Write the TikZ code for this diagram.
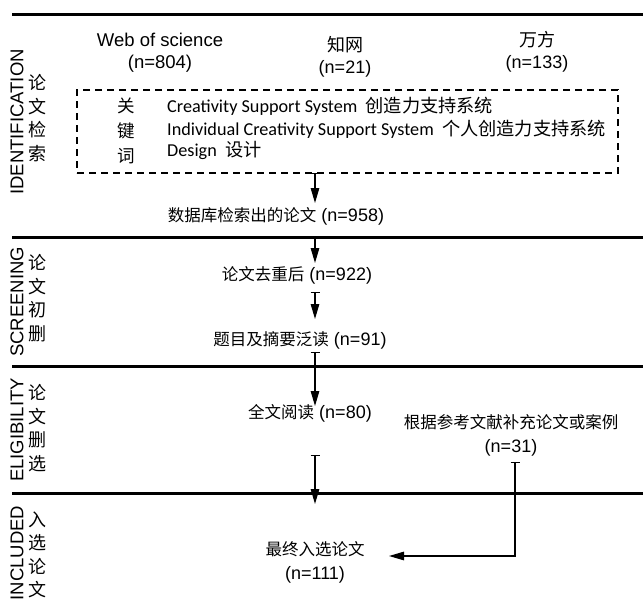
\documentclass[tikz,border=0pt]{standalone}
\usepackage{fontspec}
\setmainfont{Liberation Sans}
\newfontfamily\cjk{Noto Sans CJK SC}
\newfontfamily\kw{Carlito}
\usetikzlibrary{arrows.meta}
\begin{document}
\begin{tikzpicture}[x=1pt,y=-1pt,
  sep/.style={line width=3pt},
  txt/.style={font=\fontsize{18}{22}\selectfont, inner sep=0pt},
  vlab/.style={font=\fontsize{18.5}{22}\selectfont, inner sep=0pt, rotate=90},
  vcjk/.style={font=\cjk\fontsize{18}{23.5}\selectfont, inner sep=0pt, align=center},
  kwtxt/.style={font=\kw\fontsize{18.2}{20}\selectfont, inner sep=0pt, anchor=west},
  flow/.style={line width=1.3pt, -{Triangle[length=15pt,width=8.5pt]}},
  barflow/.style={line width=1.3pt, {Bar[width=9pt,line width=1.3pt]}-{Triangle[length=15pt,width=8.5pt]}},
  dbox/.style={draw, line width=1.2pt, dash pattern=on 7pt off 5pt, inner sep=0pt}
]
\useasboundingbox (0,0) rectangle (643,608);

% separators
\draw[sep] (12,14) -- (643,14);
\draw[sep] (12,237) -- (643,237);
\draw[sep] (12,366) -- (643,366);
\draw[sep] (12,493) -- (643,493);

% stage labels
\node[vlab] (lid) at (17,122) {IDENTIFICATION};
\node[vcjk] (cid) at (37,118) {论\\文\\检\\索};
\node[vlab] (lsc) at (17,302) {SCREENING};
\node[vcjk] (csc) at (37,298) {论\\文\\初\\删};
\node[vlab] (lel) at (17,430) {ELIGIBILITY};
\node[vcjk] (cel) at (37,428) {论\\文\\删\\选};
\node[vlab] (lin) at (17,553) {INCLUDED};
\node[vcjk] (cin) at (37,555) {入\\选\\论\\文};

% sources
\node[txt, align=center, font=\fontsize{18.5}{22}\selectfont] (wos) at (160,53) {Web of science\\(n=804)};
\node[txt, align=center] (cnki) at (345,57) {{\cjk 知网}\\(n=21)};
\node[txt, align=center] (wf) at (537,52) {{\cjk 万方}\\(n=133)};

% keyword box
\node[dbox, minimum width=541pt, minimum height=83pt] (box) at (347.5,131.5) {};
\node[vcjk, font=\cjk\fontsize{17.5}{25}\selectfont] (kwl) at (126,131) {关\\键\\词};
\node[kwtxt] (k1) at (167,106) {Creativity Support System\ \ {\cjk 创造力支持系统}};
\node[kwtxt] (k2) at (167,129) {Individual Creativity Support System\ \ {\cjk 个人创造力支持系统}};
\node[kwtxt] (k3) at (167,150) {Design\ \ {\cjk 设计}};

% flow texts
\node[txt] (n958) at (276,216) {{\cjk\fontsize{16.5}{20}\selectfont 数据库检索出的论文} (n=958)};
\node[txt] (n922) at (297,275) {{\cjk\fontsize{16.5}{20}\selectfont 论文去重后} (n=922)};
\node[txt] (n91) at (300,340) {{\cjk\fontsize{16.5}{20}\selectfont 题目及摘要泛读} (n=91)};
\node[txt] (n80) at (310,413) {{\cjk\fontsize{16.5}{20}\selectfont 全文阅读} (n=80)};
\node[txt, align=center] (n111) at (315,562) {{\cjk\fontsize{16.5}{20}\selectfont 最终入选论文}\\[2pt](n=111)};
\node[txt, align=center] (n31) at (511,435) {{\cjk\fontsize{16.5}{20}\selectfont 根据参考文献补充论文或案例}\\[2pt](n=31)};

% connector end points
\coordinate (a1s) at (315,173);
\coordinate (a1e) at (315,203);
\coordinate (a2s) at (315,236);
\coordinate (a2e) at (315,263);
\coordinate (a3s) at (315,292);
\coordinate (a3e) at (315,319);
\coordinate (a4s) at (315,352);
\coordinate (a4e) at (315,406);
\coordinate (a5s) at (315,455);
\coordinate (a5e) at (315,504);
\coordinate (a6s) at (515,462);
\coordinate (a6e) at (389,556);

\draw[barflow] (a1s) -- (a1e);
\draw[flow] (a2s) -- (a2e);
\draw[barflow] (a3s) -- (a3e);
\draw[barflow] (a4s) -- (a4e);
\draw[barflow] (a5s) -- (a5e);
\draw[barflow] (a6s) |- (a6e);
\end{tikzpicture}
\end{document}
